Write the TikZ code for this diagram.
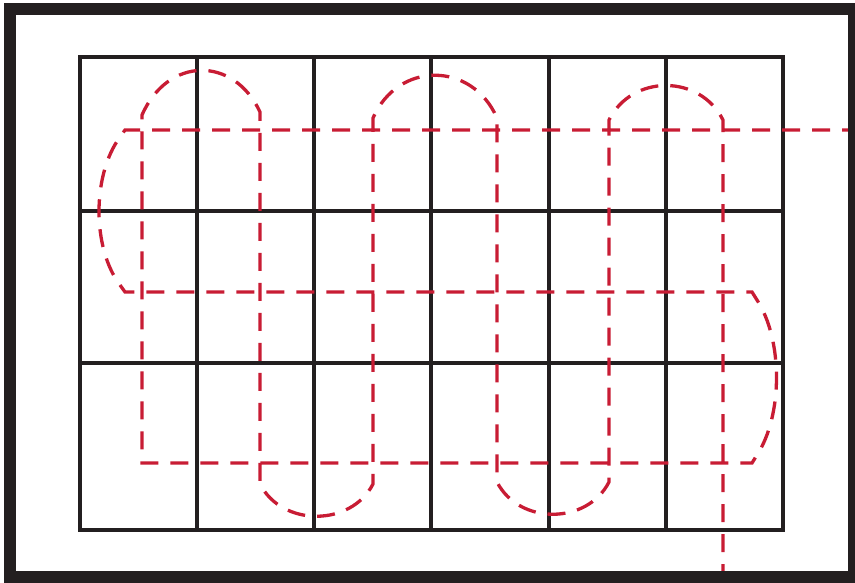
\documentclass[tikz,border=0pt]{standalone}
\definecolor{framecol}{RGB}{35,31,32}
\definecolor{redcol}{RGB}{200,28,52}
\begin{document}
\begin{tikzpicture}[x=1pt,y=-1pt,
  gridline/.style={draw=framecol,line width=3.2pt},
  framebox/.style={draw=framecol,line width=12pt},
  redpath/.style={draw=redcol,line width=3.3pt,dash pattern=on 18pt off 12pt}]
\useasboundingbox (0,0) rectangle (855,583);
\fill[white] (0,0) rectangle (855,583);
% grid
\draw[gridline] (80,57) rectangle (783,530);
\foreach \x in {197,314,431,549,666} \draw[gridline] (\x,57) -- (\x,530);
\foreach \y in {211,363} \draw[gridline] (80,\y) -- (783,\y);
% red dashed route
\draw[redpath] (860,130) -- (125,130) -- (120,137)
  .. controls (92,175) and (92,248) .. (120,285) -- (125,292)
  -- (752,292) -- (757,300)
  .. controls (783,340) and (783,415) .. (757,455) -- (752,463)
  -- (142,463) -- (142,115)
  .. controls (168,56) and (234,56) .. (260,112)
  -- (260,484)
  .. controls (282,527) and (351,527) .. (373,484)
  -- (373,118)
  .. controls (398,61) and (472,61) .. (497,118)
  -- (497,482)
  .. controls (519,525) and (587,525) .. (609,482)
  -- (609,120)
  .. controls (632,74) and (700,74) .. (723,120)
  -- (723,590);
% outer frame
\draw[framebox] (10,9) rectangle (854,577);
\end{tikzpicture}
\end{document}
